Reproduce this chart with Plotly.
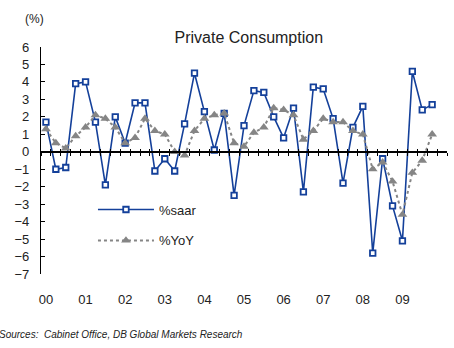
import plotly.graph_objects as go

# Quarterly private consumption growth, 2000Q1-2009Q4
years = ["00", "01", "02", "03", "04", "05", "06", "07", "08", "09"]
quarters = [f"{y}Q{q}" for y in years for q in range(1, 5)]

saar = [1.7, -1.0, -0.9, 3.9, 4.0, 1.7, -1.9, 2.0,
        0.5, 2.8, 2.8, -1.1, -0.4, -1.1, 1.6, 4.5,
        2.3, 0.1, 2.2, -2.5, 1.5, 3.5, 3.4, 2.0,
        0.8, 2.5, -2.3, 3.7, 3.6, 1.9, -1.8, 1.4,
        2.6, -5.8, -0.4, -3.1, -5.1, 4.6, 2.4, 2.7]

yoy = [1.3, 0.5, 0.2, 0.9, 1.4, 2.1, 1.9, 1.4,
       0.5, 0.8, 1.9, 1.2, 1.0, 0.0, -0.2, 1.2,
       1.9, 2.1, 2.2, 0.5, 0.3, 1.1, 1.4, 2.5,
       2.4, 2.1, 0.7, 1.2, 1.9, 1.7, 1.7, 1.2,
       1.0, -1.0, -0.6, -1.7, -3.6, -1.2, -0.5, 1.0]

y_ticks = list(range(-7, 7))

NAVY = "#14409a"
GREY = "#858585"
FONT = "Liberation Sans, Arial, sans-serif"

xpos = list(range(len(quarters)))
x_range = [-0.5, len(quarters) + 0.5]
y_range = [-7, 6]

fig = go.Figure()

fig.add_trace(go.Scatter(
    x=xpos, y=saar, name="%saar", mode="lines+markers",
    line=dict(color=NAVY, width=1.6),
    marker=dict(symbol="square", size=5.5, color="white",
                line=dict(color=NAVY, width=1.8)),
    legendgroup="a",
))
fig.add_trace(go.Scatter(
    x=xpos, y=yoy, name="%YoY", mode="lines+markers",
    line=dict(color=GREY, width=2, dash="3px,3px"),
    marker=dict(symbol="triangle-up", size=8.5, color=GREY),
    legendgroup="b",
))

# boundaries between quarters, used for the tick marks on the zero line
bounds = [i + 0.5 for i in range(-1, len(quarters) + 1)]
year_pos = [4 * i for i in range(len(years))]

fig.update_layout(
    width=454, height=348,
    margin=dict(l=40.7, r=7.3, t=46.7, b=73.5),
    paper_bgcolor="white", plot_bgcolor="white",
    font=dict(family=FONT, size=13, color="#222"),
    showlegend=True,
    legend=dict(
        x=0.128, y=0.35, xanchor="left", yanchor="top",
        bgcolor="rgba(0,0,0,0)", font=dict(size=13, color="#222"),
        itemwidth=56, traceorder="grouped", tracegroupgap=11,
    ),
    title=dict(text="Private Consumption", x=0.548, xref="container",
               y=0.893, yref="container", yanchor="middle", xanchor="center",
               font=dict(size=16, color="#222", family=FONT)),
    xaxis=dict(
        range=x_range, anchor="free", position=7 / 13,
        showline=True, linecolor="black", linewidth=1.5,
        tickvals=bounds, ticks="outside", ticklen=3, tickwidth=1.2,
        tickcolor="black", showticklabels=False, showgrid=False,
        zeroline=False,
    ),
    xaxis3=dict(
        range=x_range, overlaying="x", anchor="free", position=7 / 13,
        showline=False, tickvals=bounds, ticks="inside", ticklen=3,
        tickwidth=1.2, tickcolor="black", showticklabels=False,
        showgrid=False, zeroline=False,
    ),
    xaxis2=dict(
        range=x_range, overlaying="x", anchor="free", position=0,
        showline=False, tickvals=year_pos, ticktext=years,
        ticks="outside", ticklen=13, tickcolor="rgba(0,0,0,0)",
        showgrid=False, zeroline=False,
        tickfont=dict(size=13, color="#222"),
    ),
    yaxis=dict(
        range=y_range, showline=True, linecolor="black", linewidth=1.2,
        tickvals=y_ticks, ticks="inside", ticklen=4, tickwidth=1.2,
        tickcolor="black", showgrid=False, zeroline=False,
        ticklabelstandoff=8, tickfont=dict(size=13, color="#222"),
    ),
)

# invisible helper traces so the overlay axes are drawn
fig.add_trace(go.Scatter(x=[None], y=[None], xaxis="x2", showlegend=False,
                         hoverinfo="skip"))
fig.add_trace(go.Scatter(x=[None], y=[None], xaxis="x3", showlegend=False,
                         hoverinfo="skip"))

fig.add_annotation(text="(%)", xref="paper", yref="paper", x=-0.045, y=1.165,
                   showarrow=False, font=dict(size=12, color="#222"))
fig.add_annotation(
    text="<i>Sources:  Cabinet Office, DB Global Markets Research</i>",
    xref="paper", yref="paper", x=-0.108, y=-0.265, xanchor="left",
    yanchor="middle", showarrow=False, font=dict(size=10, color="#222"))

fig.write_html("out.html")
